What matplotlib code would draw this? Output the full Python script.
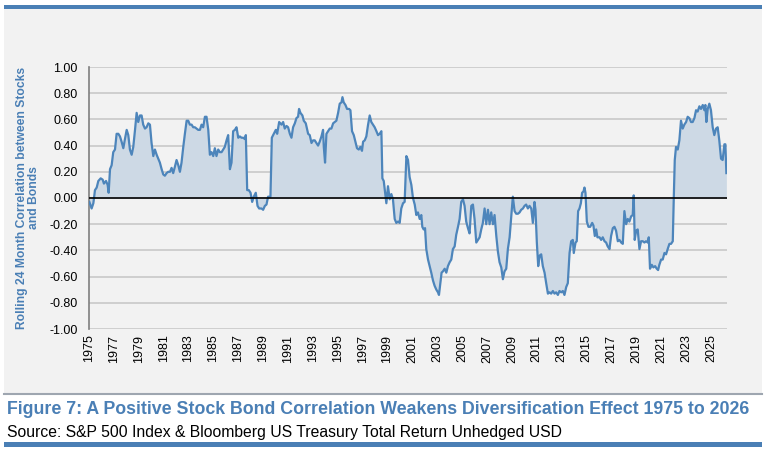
import matplotlib.pyplot as plt
from matplotlib.patches import Rectangle
from matplotlib.lines import Line2D

plt.rcParams['font.family'] = ['Liberation Sans', 'DejaVu Sans']

# rolling 24m stock/bond correlation (decimal years)
years = [
    1975.03, 1975.21, 1975.35, 1975.48, 1975.62, 1975.75, 1975.94, 1976.10, 1976.20, 1976.37,
    1976.50, 1976.58, 1976.69, 1976.82, 1976.95, 1977.09, 1977.22, 1977.36, 1977.49, 1977.62,
    1977.76, 1977.89, 1978.03, 1978.16, 1978.29, 1978.43, 1978.56, 1978.70, 1978.83, 1978.96,
    1979.10, 1979.23, 1979.36, 1979.50, 1979.63, 1979.77, 1979.90, 1980.03, 1980.17, 1980.30,
    1980.44, 1980.57, 1980.70, 1980.84, 1980.97, 1981.10, 1981.24, 1981.37, 1981.51, 1981.64,
    1981.77, 1981.91, 1982.04, 1982.18, 1982.31, 1982.44, 1982.58, 1982.71, 1982.85, 1982.98,
    1983.11, 1983.25, 1983.38, 1983.51, 1983.65, 1983.78, 1983.92, 1984.05, 1984.18, 1984.32,
    1984.45, 1984.59, 1984.72, 1984.85, 1984.99, 1985.12, 1985.25, 1985.39, 1985.52, 1985.66,
    1985.79, 1985.92, 1986.06, 1986.19, 1986.33, 1986.46, 1986.59, 1986.73, 1986.86, 1987.00,
    1987.13, 1987.26, 1987.40, 1987.53, 1987.61, 1987.72, 1987.85, 1987.99, 1988.12, 1988.25,
    1988.41, 1988.55, 1988.68, 1988.87, 1989.00, 1989.14, 1989.27, 1989.40, 1989.59, 1989.70,
    1989.86, 1990.02, 1990.13, 1990.29, 1990.48, 1990.61, 1990.74, 1990.88, 1991.01, 1991.15,
    1991.28, 1991.41, 1991.55, 1991.68, 1991.81, 1991.89, 1992.00, 1992.16, 1992.27, 1992.43,
    1992.62, 1992.75, 1992.89, 1993.02, 1993.15, 1993.29, 1993.42, 1993.55, 1993.69, 1993.82,
    1993.88, 1993.98, 1994.09, 1994.22, 1994.36, 1994.49, 1994.63, 1994.76, 1994.89, 1995.03,
    1995.16, 1995.30, 1995.38, 1995.48, 1995.62, 1995.75, 1995.91, 1996.02, 1996.15, 1996.29,
    1996.45, 1996.55, 1996.69, 1996.82, 1996.95, 1997.04, 1997.17, 1997.30, 1997.44, 1997.57,
    1997.70, 1997.84, 1997.97, 1998.11, 1998.24, 1998.37, 1998.51, 1998.59, 1998.70, 1998.80,
    1998.91, 1999.04, 1999.18, 1999.31, 1999.44, 1999.58, 1999.71, 1999.85, 1999.98, 2000.11,
    2000.25, 2000.38, 2000.52, 2000.65, 2000.78, 2000.92, 2001.05, 2001.19, 2001.32, 2001.45,
    2001.59, 2001.72, 2001.80, 2001.91, 2002.02, 2002.12, 2002.26, 2002.39, 2002.52, 2002.66,
    2002.79, 2002.93, 2003.06, 2003.14, 2003.25, 2003.35, 2003.46, 2003.60, 2003.73, 2003.86,
    2004.00, 2004.13, 2004.26, 2004.40, 2004.53, 2004.67, 2004.80, 2004.93, 2005.07, 2005.20,
    2005.33, 2005.47, 2005.60, 2005.74, 2005.87, 2006.00, 2006.14, 2006.27, 2006.41, 2006.54,
    2006.67, 2006.81, 2006.94, 2007.08, 2007.21, 2007.34, 2007.48, 2007.61, 2007.75, 2007.88,
    2008.01, 2008.15, 2008.28, 2008.41, 2008.55, 2008.68, 2008.82, 2008.95, 2009.08, 2009.22,
    2009.35, 2009.49, 2009.62, 2009.75, 2009.89, 2010.02, 2010.15, 2010.29, 2010.42, 2010.56,
    2010.69, 2010.82, 2010.90, 2011.01, 2011.12, 2011.23, 2011.36, 2011.49, 2011.63, 2011.76,
    2011.90, 2012.03, 2012.16, 2012.30, 2012.43, 2012.56, 2012.70, 2012.83, 2012.97, 2013.10,
    2013.23, 2013.37, 2013.50, 2013.64, 2013.77, 2013.90, 2013.98, 2014.12, 2014.22, 2014.33,
    2014.44, 2014.55, 2014.65, 2014.76, 2014.84, 2014.92, 2015.03, 2015.16, 2015.30, 2015.46,
    2015.56, 2015.67, 2015.78, 2015.88, 2016.05, 2016.18, 2016.31, 2016.45, 2016.58, 2016.71,
    2016.85, 2016.98, 2017.12, 2017.25, 2017.38, 2017.52, 2017.65, 2017.79, 2017.92, 2018.05,
    2018.19, 2018.32, 2018.45, 2018.59, 2018.72, 2018.80, 2018.88, 2018.99, 2019.12, 2019.26,
    2019.39, 2019.53, 2019.66, 2019.79, 2019.93, 2020.01, 2020.11, 2020.25, 2020.38, 2020.52,
    2020.65, 2020.76, 2020.86, 2021.00, 2021.13, 2021.27, 2021.40, 2021.53, 2021.67, 2021.80,
    2021.94, 2022.02, 2022.10, 2022.20, 2022.34, 2022.47, 2022.60, 2022.74, 2022.87, 2023.01,
    2023.14, 2023.27, 2023.41, 2023.54, 2023.68, 2023.81, 2023.94, 2024.08, 2024.21, 2024.35,
    2024.48, 2024.56, 2024.64, 2024.75, 2024.88, 2025.01, 2025.15, 2025.28, 2025.42, 2025.55,
    2025.68, 2025.82, 2025.95, 2026.09, 2026.17, 2026.25,
]
corr = [
    -0.03, -0.08, -0.04, 0.06, 0.08, 0.13, 0.15, 0.14, 0.11, 0.13,
    0.10, 0.04, 0.22, 0.25, 0.35, 0.37, 0.49, 0.49, 0.47, 0.43,
    0.38, 0.45, 0.52, 0.48, 0.37, 0.33, 0.39, 0.52, 0.65, 0.58,
    0.63, 0.63, 0.56, 0.53, 0.54, 0.57, 0.56, 0.42, 0.32, 0.37,
    0.33, 0.30, 0.27, 0.22, 0.18, 0.17, 0.19, 0.20, 0.20, 0.23,
    0.19, 0.24, 0.29, 0.25, 0.20, 0.27, 0.39, 0.49, 0.59, 0.59,
    0.56, 0.56, 0.54, 0.54, 0.53, 0.52, 0.52, 0.56, 0.54, 0.62,
    0.62, 0.52, 0.33, 0.35, 0.32, 0.38, 0.32, 0.37, 0.35, 0.35,
    0.37, 0.39, 0.44, 0.48, 0.22, 0.27, 0.51, 0.52, 0.54, 0.46,
    0.47, 0.46, 0.46, 0.45, 0.48, 0.06, 0.06, 0.04, -0.03, 0.01,
    0.04, -0.06, -0.08, -0.08, -0.09, -0.06, -0.05, 0.01, 0.01, 0.46,
    0.49, 0.52, 0.49, 0.58, 0.56, 0.58, 0.53, 0.55, 0.54, 0.49,
    0.46, 0.54, 0.57, 0.61, 0.62, 0.68, 0.65, 0.63, 0.59, 0.57,
    0.49, 0.48, 0.42, 0.44, 0.44, 0.42, 0.40, 0.43, 0.47, 0.52,
    0.39, 0.27, 0.49, 0.51, 0.53, 0.53, 0.57, 0.58, 0.59, 0.65,
    0.72, 0.73, 0.77, 0.73, 0.71, 0.68, 0.68, 0.67, 0.51, 0.48,
    0.42, 0.38, 0.37, 0.39, 0.36, 0.43, 0.44, 0.47, 0.56, 0.63,
    0.58, 0.56, 0.54, 0.51, 0.48, 0.49, 0.51, 0.15, 0.13, 0.05,
    -0.04, 0.09, -0.01, 0.03, -0.01, -0.16, -0.19, -0.18, -0.19, -0.08,
    -0.04, -0.03, 0.32, 0.29, 0.16, 0.10, 0.00, -0.05, -0.13, -0.11,
    -0.16, -0.13, -0.22, -0.24, -0.23, -0.39, -0.47, -0.52, -0.57, -0.63,
    -0.67, -0.70, -0.72, -0.74, -0.65, -0.57, -0.56, -0.54, -0.57, -0.52,
    -0.49, -0.47, -0.39, -0.37, -0.28, -0.22, -0.16, -0.03, -0.01, -0.06,
    -0.18, -0.23, -0.27, -0.06, -0.05, -0.16, -0.34, -0.32, -0.30, -0.24,
    -0.19, -0.08, -0.20, -0.09, -0.20, -0.11, -0.20, -0.13, -0.29, -0.41,
    -0.49, -0.53, -0.62, -0.56, -0.54, -0.39, -0.30, -0.14, 0.01, -0.10,
    -0.12, -0.12, -0.11, -0.09, -0.08, -0.06, -0.05, -0.08, -0.06, -0.08,
    -0.19, -0.03, -0.09, -0.34, -0.52, -0.44, -0.43, -0.52, -0.57, -0.65,
    -0.73, -0.72, -0.73, -0.71, -0.73, -0.72, -0.74, -0.71, -0.72, -0.71,
    -0.74, -0.68, -0.65, -0.42, -0.33, -0.32, -0.42, -0.34, -0.33, -0.10,
    -0.08, -0.04, 0.04, 0.05, 0.08, 0.04, -0.18, -0.22, -0.22, -0.19,
    -0.21, -0.29, -0.24, -0.30, -0.30, -0.32, -0.30, -0.33, -0.34, -0.37,
    -0.39, -0.29, -0.23, -0.22, -0.25, -0.33, -0.32, -0.34, -0.35, -0.10,
    -0.20, -0.16, -0.18, -0.14, -0.13, 0.02, -0.32, -0.25, -0.24, -0.39,
    -0.33, -0.33, -0.34, -0.33, -0.34, -0.30, -0.54, -0.51, -0.53, -0.52,
    -0.54, -0.55, -0.51, -0.47, -0.47, -0.42, -0.43, -0.39, -0.35, -0.35,
    -0.33, 0.00, 0.29, 0.39, 0.37, 0.44, 0.59, 0.53, 0.56, 0.58,
    0.62, 0.61, 0.58, 0.58, 0.61, 0.67, 0.66, 0.70, 0.68, 0.71,
    0.67, 0.71, 0.58, 0.68, 0.72, 0.67, 0.54, 0.48, 0.53, 0.54,
    0.44, 0.30, 0.29, 0.41, 0.41, 0.19,
]
tick_years = list(range(1975, 2026, 2))
y_ticks = [-1.0, -0.8, -0.6, -0.4, -0.2, 0.0, 0.2, 0.4, 0.6, 0.8, 1.0]

blue = '#4a7fb5'
line_col = '#4d85bb'
fill_col = '#cdd9e5'

fig = plt.figure(figsize=(7.67, 4.51), dpi=100)
W, H = 767, 451

# grey panel + blue bars
fig.add_artist(Rectangle((4 / W, 1 - 393 / H), 758 / W, 384 / H, transform=fig.transFigure,
                         facecolor='#f2f2f2', edgecolor='none', zorder=-10))
fig.add_artist(Rectangle((4 / W, 1 - 9 / H), 758 / W, 4 / H, transform=fig.transFigure,
                         facecolor=blue, edgecolor='none', zorder=-9))
fig.add_artist(Rectangle((4 / W, 1 - 447 / H), 758 / W, 5 / H, transform=fig.transFigure,
                         facecolor=blue, edgecolor='none', zorder=-9))
fig.add_artist(Line2D([4 / W, 762 / W], [1 - 393.5 / H, 1 - 393.5 / H], transform=fig.transFigure,
                      color='#9ea6b0', lw=1.5, zorder=-8))

ax = fig.add_axes([89 / W, 1 - 329 / H, 638 / W, 262 / H])
ax.set_facecolor('none')

ax.fill_between(years, corr, 0, color=fill_col, lw=0, zorder=2)
ax.plot(years, corr, color=line_col, lw=1.6, zorder=3)
ax.axhline(0, color='black', lw=1.2, zorder=4)

ax.set_xlim(1975, 2026.3)
ax.set_ylim(-1.0, 1.0)
ax.set_yticks(y_ticks)
ax.set_yticklabels(['%.2f' % v for v in y_ticks], fontsize=9)
ax.set_xticks(tick_years)
ax.set_xticklabels([str(y) for y in tick_years], rotation=90, fontsize=9)
ax.tick_params(axis='y', length=0, pad=8)
ax.tick_params(axis='x', length=0, pad=4)
ax.yaxis.grid(True, color='#c9c9c9', lw=1.2, zorder=1)
ax.set_axisbelow(True)
for s in ['top', 'right', 'bottom']:
    ax.spines[s].set_visible(False)
ax.spines['left'].set_color('#7f7f7f')
ax.spines['left'].set_linewidth(1.2)

ax.set_ylabel('Rolling 24 Month Correlation between Stocks\nand Bonds', fontsize=8.7,
              fontweight='bold', color=blue, labelpad=6.5, linespacing=1.0)

fig.text(7 / W, 1 - 410 / H, 'Figure 7: A Positive Stock Bond Correlation Weakens Diversification Effect 1975 to 2026',
         fontsize=12.8, fontweight='bold', color=blue, va='center', ha='left')
fig.text(7 / W, 1 - 432 / H, 'Source: S&P 500 Index & Bloomberg US Treasury Total Return Unhedged USD',
         fontsize=11.3, color='black', va='center', ha='left')

fig.savefig('out.png', dpi=100)
